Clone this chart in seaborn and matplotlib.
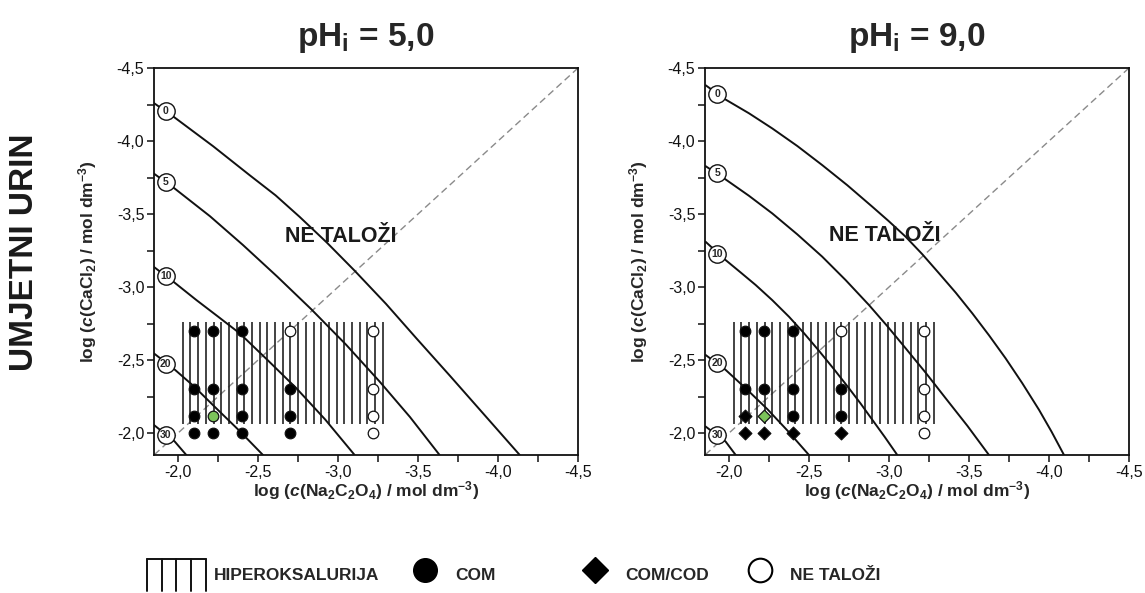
import numpy as np
import pandas as pd
import matplotlib
matplotlib.use('Agg')
import matplotlib.pyplot as plt
import seaborn as sns
from matplotlib.ticker import MultipleLocator, FuncFormatter
from matplotlib.lines import Line2D
from matplotlib.legend_handler import HandlerBase

# --- data ------------------------------------------------------------------
titles = [r'pH$_\mathrm{i}$ = 5,0', r'pH$_\mathrm{i}$ = 9,0']

na_ox = [-2.10, -2.22, -2.40, -2.70, -3.22]    # log c(Na2C2O4)
ca_cl = [-2.70, -2.30, -2.12, -2.00]           # log c(CaCl2)

# rows follow ca_cl, columns follow na_ox; '*' marks the green point
phase_ph5 = [['COM', 'COM', 'COM', 'NE', 'NE'],
             ['COM', 'COM', 'COM', 'COM', 'NE'],
             ['COM', 'COM*', 'COM', 'COM', 'NE'],
             ['COM', 'COM', 'COM', 'COM', 'NE']]
phase_ph9 = [['COM', 'COM', 'COM', 'NE', 'NE'],
             ['COM', 'COM', 'COM', 'COM', 'NE'],
             ['COD', 'COD*', 'COM', 'COM', 'NE'],
             ['COD', 'COD', 'COD', 'COD', 'NE']]

curve_labels = ['0', '5', '10', '20', '30']

ph5_curve_x = [[-1.848, -1.979, -2.220, -2.448, -2.610, -2.760, -2.930, -3.104, -3.300, -3.490, -3.700, -3.906, -4.136],
               [-1.848, -1.979, -2.200, -2.406, -2.620, -2.833, -3.050, -3.260, -3.450, -3.635],
               [-1.848, -1.979, -2.115, -2.250, -2.386, -2.560, -2.740, -2.920, -3.104],
               [-1.848, -1.969, -2.100, -2.223, -2.380, -2.531],
               [-1.848, -1.979, -2.052]]
ph5_curve_y = [[-4.261, -4.161, -3.964, -3.766, -3.628, -3.481, -3.305, -3.112, -2.885, -2.649, -2.392, -2.136, -1.850],
               [-3.778, -3.675, -3.485, -3.288, -3.072, -2.848, -2.606, -2.353, -2.110, -1.850],
               [-3.139, -3.030, -2.911, -2.798, -2.683, -2.500, -2.307, -2.093, -1.850],
               [-2.547, -2.445, -2.320, -2.187, -2.020, -1.850],
               [-2.057, -1.943, -1.850]]
ph5_label_x = -1.923
ph5_label_y = [-4.206, -3.721, -3.076, -2.474, -1.988]

ph9_curve_x = [[-1.854, -1.979, -2.125, -2.271, -2.427, -2.583, -2.740, -2.896, -3.000, -3.104, -3.209, -3.313, -3.417, -3.521, -3.625, -3.729, -3.833, -3.938, -4.016, -4.094],
               [-1.854, -1.979, -2.125, -2.271, -2.427, -2.583, -2.729, -2.875, -2.990, -3.104, -3.229, -3.354, -3.490, -3.625],
               [-1.854, -1.979, -2.073, -2.167, -2.271, -2.375, -2.469, -2.563, -2.656, -2.750, -2.823, -2.896, -2.974, -3.052],
               [-1.854, -1.979, -2.110, -2.240, -2.370, -2.500],
               [-1.854, -1.979, -2.042]]
ph9_curve_y = [[-4.382, -4.284, -4.190, -4.086, -3.966, -3.835, -3.697, -3.550, -3.450, -3.345, -3.224, -3.094, -2.962, -2.820, -2.670, -2.512, -2.342, -2.159, -2.010, -1.850],
               [-3.828, -3.737, -3.625, -3.504, -3.361, -3.208, -3.048, -2.877, -2.732, -2.581, -2.414, -2.239, -2.050, -1.850],
               [-3.310, -3.185, -3.100, -3.014, -2.910, -2.797, -2.684, -2.563, -2.438, -2.307, -2.202, -2.091, -1.973, -1.850],
               [-2.535, -2.433, -2.301, -2.164, -2.012, -1.850],
               [-2.045, -1.942, -1.850]]
ph9_label_x = -1.927
ph9_label_y = [-4.325, -3.778, -3.224, -2.478, -1.988]

region_text = 'NE TALOŽI'
region_xy = [(-3.015, -3.345), (-2.973, -3.350)]

# hyperoxaluria band
hyper_x = (-2.03, -3.28)
hyper_y = (-2.06, -2.76)
hyper_n = 27

lims = (-1.85, -4.5)

# --- style -----------------------------------------------------------------
sns.set_style('ticks')
plt.rcParams['font.family'] = ['Liberation Sans', 'DejaVu Sans']
plt.rcParams['mathtext.fontset'] = 'custom'
plt.rcParams['mathtext.rm'] = 'Liberation Sans:bold'
plt.rcParams['mathtext.it'] = 'Liberation Sans:bold:italic'
plt.rcParams['mathtext.bf'] = 'Liberation Sans:bold'

marker_style = {'COM': ('o', 'black', 58), 'COD': ('D', 'black', 42), 'NE': ('o', 'white', 58)}
green = '#7cc35a'
ink = '#111111'


def comma(v, pos):
    return f'{v:.1f}'.replace('.', ',')


def points_frame(phase):
    rows = []
    for i, y in enumerate(ca_cl):
        for j, x in enumerate(na_ox):
            p = phase[i][j]
            rows.append({'x': x, 'y': y, 'phase': p.rstrip('*'), 'hi': p.endswith('*')})
    return pd.DataFrame(rows)


def draw_panel(ax, title, phase, cx, cy, lab_x, lab_y, txt_xy):
    # hyperoxaluria hatching
    ax.vlines(np.linspace(hyper_x[0], hyper_x[1], hyper_n), hyper_y[0], hyper_y[1],
              color='#222222', lw=1.2, zorder=2)
    # y = x reference
    ax.axline((-2.0, -2.0), (-3.0, -3.0), ls=(0, (5, 3)), color='#8a8a8a', lw=1.0, zorder=1)
    # iso-curves
    for xs, ys in zip(cx, cy):
        sns.lineplot(x=xs, y=ys, sort=False, estimator=None, color=ink, lw=1.4,
                     ax=ax, zorder=3)
    # curve labels in circles
    for lab, ly in zip(curve_labels, lab_y):
        ax.plot(lab_x, ly, 'o', ms=12.5, mfc='white', mec=ink, mew=1.0, zorder=5,
                clip_on=False)
        ax.text(lab_x, ly, lab, ha='center', va='center', fontsize=7.5, fontweight='bold',
                zorder=6)
    # experimental points
    df = points_frame(phase)
    for ph, sub in df.groupby('phase'):
        mk, col, s = marker_style[ph]
        for hi, part in sub.groupby('hi'):
            sns.scatterplot(data=part, x='x', y='y', marker=mk, s=s,
                            color=green if hi else col, edgecolor=ink,
                            linewidth=0.9, ax=ax, legend=False, zorder=4)
    ax.text(txt_xy[0], txt_xy[1], region_text, ha='center', va='center',
            fontsize=15.5, fontweight='bold', color='#1a1a1a', zorder=6)

    ax.set_xlim(*lims)
    ax.set_ylim(*lims)
    for a in (ax.xaxis, ax.yaxis):
        a.set_major_locator(MultipleLocator(0.5))
        a.set_minor_locator(MultipleLocator(0.25))
        a.set_major_formatter(FuncFormatter(comma))
    ax.tick_params(which='both', direction='out', length=5, width=1.1, labelsize=11.5,
                   pad=2, top=False, right=False, colors=ink)
    for sp in ax.spines.values():
        sp.set_visible(True)
        sp.set_linewidth(1.3)
        sp.set_color(ink)
    ax.set_xlabel(r'log ($c$(Na$_2$C$_2$O$_4$) / mol dm$^{-3}$)', fontsize=12.5,
                  fontweight='bold')
    ax.set_ylabel(r'log ($c$(CaCl$_2$) / mol dm$^{-3}$)', fontsize=12.5, fontweight='bold')
    ax.xaxis.set_label_coords(0.5, -0.063)
    ax.yaxis.set_label_coords(-0.13, 0.5)
    ax.set_title(title, fontsize=24, fontweight='bold', pad=16)


class HatchBox:
    pass


class HatchHandler(HandlerBase):
    # box of vertical lines, a bit wider than the marker handles
    def create_artists(self, legend, orig_handle, xdescent, ydescent, width, height,
                       fontsize, trans):
        x0, y0 = -xdescent - 0.9 * fontsize, -ydescent
        x1 = -xdescent + width
        arts = [Line2D([xx, xx], [y0, y0 + height], color=ink, lw=1.4, transform=trans)
                for xx in np.linspace(x0, x1, 5)]
        arts.append(Line2D([x0, x1], [y0 + height] * 2, color=ink, lw=1.4, transform=trans))
        return arts


fig = plt.figure(figsize=(11.45, 5.93), dpi=100)
ax_l = fig.add_axes([0.1345, 0.2327, 0.3703, 0.6526])
ax_r = fig.add_axes([0.6157, 0.2327, 0.3703, 0.6526])

draw_panel(ax_l, titles[0], phase_ph5, ph5_curve_x, ph5_curve_y, ph5_label_x, ph5_label_y,
           region_xy[0])
draw_panel(ax_r, titles[1], phase_ph9, ph9_curve_x, ph9_curve_y, ph9_label_x, ph9_label_y,
           region_xy[1])

fig.text(0.021, 1 - 252 / 593, 'UMJETNI URIN', rotation=90, ha='center', va='center',
         fontsize=24, fontweight='bold', color='#1a1a1a')

# legend entries placed along the bottom row as in the reference
handles = [HatchBox(),
           Line2D([], [], ls='', marker='o', ms=17, mfc='black', mec='black'),
           Line2D([], [], ls='', marker='D', ms=13.5, mfc='black', mec='black'),
           Line2D([], [], ls='', marker='o', ms=17, mfc='white', mec='black', mew=1.5)]
labels = ['HIPEROKSALURIJA', 'COM', 'COM/COD', 'NE TALOŽI']
anchors = [163, 404, 574, 739]
for h, lab, ax_px in zip(handles, labels, anchors):
    fig.legend([h], [lab], loc='center left', bbox_to_anchor=(ax_px / 1145, 1 - 575 / 593),
               frameon=False, handler_map={HatchBox: HatchHandler()},
               prop={'weight': 'bold', 'size': 12.5}, handlelength=2.45, handleheight=2.5,
               handletextpad=0.5, borderpad=0, borderaxespad=0)

fig.savefig('out.png', dpi=100)
